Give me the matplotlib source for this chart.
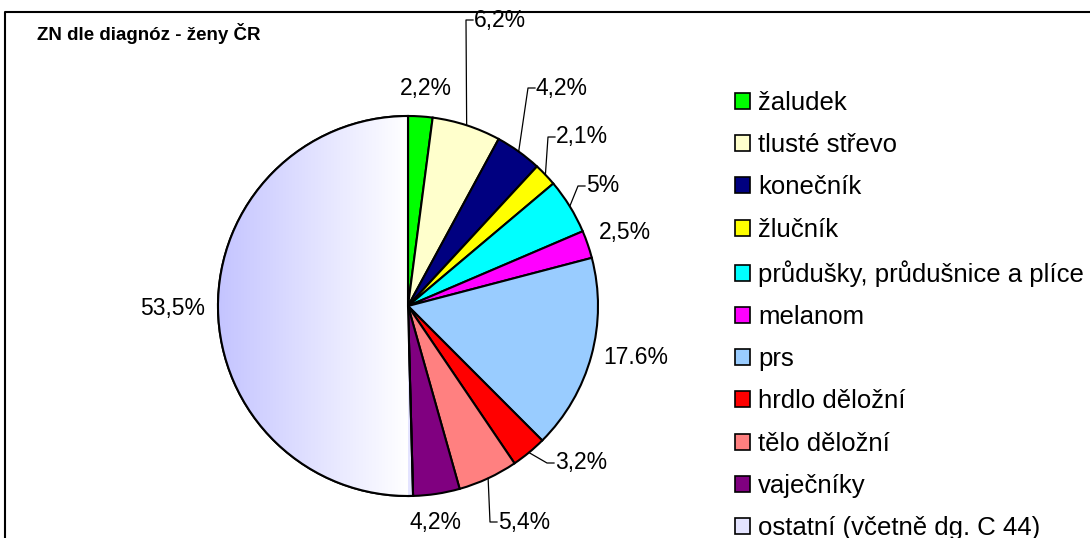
import matplotlib.pyplot as plt
import numpy as np
from matplotlib.colors import LinearSegmentedColormap
from matplotlib.patches import PathPatch

plt.rcParams['font.family'] = ['Liberation Sans', 'DejaVu Sans']

# data
categories = ['žaludek', 'tlusté střevo', 'konečník', 'žlučník',
              'průdušky, průdušnice a plíce', 'melanom', 'prs',
              'hrdlo děložní', 'tělo děložní', 'vaječníky',
              'ostatní (včetně dg. C 44)']
values = [2.2, 6.2, 4.2, 2.1, 5.0, 2.5, 17.6, 3.2, 5.4, 4.2, 53.5]
value_labels = ['2,2%', '6,2%', '4,2%', '2,1%', '5%', '2,5%', '17.6%',
                '3,2%', '5,4%', '4,2%', '53,5%']
colors = ['#00FF00', '#FFFFCC', '#000080', '#FFFF00', '#00FFFF', '#FF00FF',
          '#99CCFF', '#FF0000', '#FF8080', '#800080', '#E4E4FF']

# label placement in pixel coords (x, y from top), and whether a leader line is drawn
label_pos = [(400, 88), (474, 20), (536, 88), (556, 137), (586, 186),
             (599, 233), (603, 357), (555, 463), (498, 522), (409, 522),
             (140, 308)]
leader = [False, True, True, True, True, False, False, True, True, False, False]

W, H = 1090, 538
fig = plt.figure(figsize=(W / 100, H / 100), dpi=100)
ax = fig.add_axes([0, 0, 1, 1])

cx, cy, r = 408, H - 306, 190

wedges, _ = ax.pie(values, colors=colors, startangle=90, counterclock=False,
                   center=(cx, cy), radius=r, frame=True,
                   wedgeprops=dict(edgecolor='black', linewidth=1.5))
ax.set_xlim(0, W)
ax.set_ylim(0, H)
ax.axis('off')

# horizontal gradient for the last slice
last = wedges[-1]
cmap = LinearSegmentedColormap.from_list('grad', ['#C4C4FF', '#FFFFFF'])
grad = np.tile(np.linspace(0, 1, 256), (2, 1))
img = ax.imshow(grad, cmap=cmap, extent=(cx - r, cx, cy - r, cy + r),
                aspect='auto', zorder=last.get_zorder() + 0.1)
img.set_clip_path(last)
ax.add_patch(PathPatch(last.get_path(), fill=False, edgecolor='black',
                       linewidth=1.5, zorder=last.get_zorder() + 0.2))
ax.set_xlim(0, W)
ax.set_ylim(0, H)

# percentage labels
total = sum(values)
cum = 0
for v, lab, (lx, ly), ld in zip(values, value_labels, label_pos, leader):
    mid = (cum + v / 2) / total * 2 * np.pi
    cum += v
    ax_x = cx + r * np.sin(mid)
    ax_y = cy + r * np.cos(mid)
    ty = H - ly
    if ld:
        ex = lx - 8
        ax.plot([ax_x, ex, lx - 1], [ax_y, ty, ty], color='black', lw=0.9,
                zorder=5)
    ax.text(lx, ty, lab, fontsize=16.5, ha='left', va='center', zorder=6)

ax.text(37, H - 33, 'ZN dle diagnóz - ženy ČR', fontsize=13.5,
        fontweight='bold', ha='left', va='center')

# frame
ax.plot([5, 5, W], [0, H - 12, H - 12], color='black', lw=1.5,
        solid_capstyle='butt', clip_on=False)

# legend
leg = ax.legend(wedges, categories, loc='upper left',
                bbox_to_anchor=(735 / W, 1 - 91 / H), frameon=False,
                fontsize=18.5, handlelength=0.58, handleheight=0.58,
                handletextpad=0.32, labelspacing=0.71, borderpad=0,
                borderaxespad=0)
for h in leg.legend_handles:
    h.set_linewidth(1.2)

plt.savefig('out.png', dpi=100)
